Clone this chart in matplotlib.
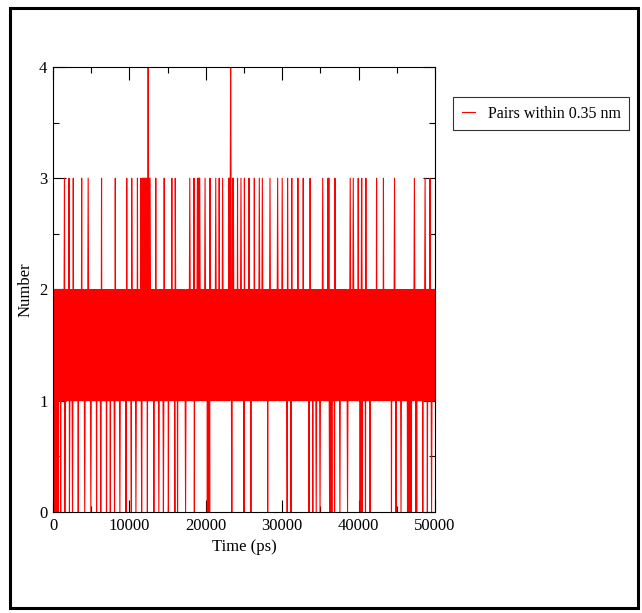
import numpy as np
import matplotlib
matplotlib.use("Agg")
import matplotlib.pyplot as plt
from matplotlib.patches import Rectangle

# hydrogen-bond pair count
frame_step = 50          # ps between frames
t_end = 50000
band_levels = [1, 2]     # the count flips between these almost every frame

# single frames that reach 3 pairs
up3_times = [1500, 2100, 2650, 3750, 4620, 5720, 6370, 8160, 8770, 9640,
             10300, 11040, 13450, 14570, 15540, 16000, 17370, 17890, 18460,
             19900, 20550, 21300, 21770, 22210, 24170, 24610, 25050, 25660,
             26350, 27010, 27400, 28400, 29410, 30020, 30720, 31240, 32030,
             32730, 33640, 34430, 35300, 36910, 38880, 39310, 39970, 40400,
             40970, 42370, 43240, 44680, 47300, 48690, 49350]
# stretches where it keeps hopping up to 3
up3_blocks = [(11450, 12700), (18900, 19200), (22950, 23600), (35950, 36150)]
# frames with 4 pairs
up4_times = [12450, 23250]

# single frames with no pair
down0_times = [1000, 1570, 2140, 2530, 3320, 4140, 4970, 5710, 6240, 7020,
               7510, 8070, 8770, 9560, 10250, 10860, 11610, 12350, 13220,
               13830, 14440, 15100, 15970, 16320, 17370, 18500, 23390, 25000,
               25920, 28100, 30670, 31150, 33510, 33990, 34430, 34950, 36870,
               37570, 38530, 40880, 41500, 44290, 44900, 45550, 48390, 49000,
               49570]
# stretches where it keeps dropping to 0
down0_blocks = [(0, 700), (20150, 20500), (36200, 36550), (40200, 40550),
                (46400, 46900), (47450, 47650)]

time = np.arange(0, t_end + frame_step, frame_step)
count = np.array([band_levels[i % 2] for i in range(len(time))])

def idx(t):
    return int(round(t / frame_step))

for a, b in up3_blocks:
    for i in range(idx(a), idx(b) + 1):
        count[i] = 3 if i % 2 == 0 else 1
for a, b in down0_blocks:
    for i in range(idx(a), idx(b) + 1):
        count[i] = 0 if i % 2 == 0 else 2
for t in up3_times:
    count[idx(t)] = 3
for t in down0_times:
    count[idx(t)] = 0
for t in up4_times:
    count[idx(t)] = 4

plt.rcParams['font.family'] = ['Liberation Serif', 'DejaVu Serif']

fig = plt.figure(figsize=(6.42, 6.13), dpi=100)
ax = fig.add_axes([0.0826, 0.1648, 0.595, 0.726])

ax.plot(time, count, color='red', lw=0.8, label='Pairs within 0.35 nm')

ax.set_xlim(0, 50000)
ax.set_ylim(0, 4)
ax.set_xticks(np.arange(0, 50001, 10000))
ax.set_xticks(np.arange(0, 50001, 5000), minor=True)
ax.set_yticks(np.arange(0, 5, 1))
ax.set_yticks(np.arange(0, 4.01, 0.5), minor=True)
ax.tick_params(which='both', direction='in', top=True, right=True,
               labelsize=12, width=0.8)
ax.tick_params(which='major', length=9, pad=4)
ax.tick_params(which='minor', length=4.5)
for s in ax.spines.values():
    s.set_linewidth(0.8)

ax.set_xlabel('Time (ps)', fontsize=12, labelpad=4)
ax.set_ylabel('Number', fontsize=12, labelpad=4)

leg = fig.legend(loc='upper left', bbox_to_anchor=(0.706, 0.842),
                 fontsize=11.5, frameon=True, fancybox=False,
                 handlelength=0.8, borderpad=0.55, handletextpad=0.8,
                 borderaxespad=0)
leg.get_frame().set_edgecolor('black')
leg.get_frame().set_linewidth(0.8)

# outer border around the whole picture
fig.patches.append(Rectangle((0.016, 0.008), 0.978, 0.979,
                             transform=fig.transFigure, fill=False,
                             edgecolor='black', lw=2.2))

fig.savefig('out.png', dpi=100)
